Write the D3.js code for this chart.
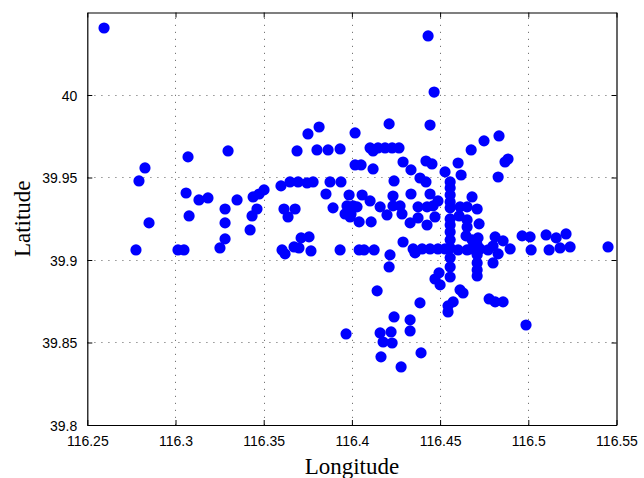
<!DOCTYPE html>
<html><head><meta charset="utf-8">
<script src="https://cdn.jsdelivr.net/npm/d3@7"></script>
<style>body{margin:0;background:#fff;} svg{display:block;}</style>
</head><body>
<script>
const lon = [116.2595,116.2776,116.2793,116.2827,116.2850,116.3014,116.3048,116.3060,116.3071,116.3077,116.3133,116.3184,116.3252,116.3281,116.3281,116.3281,116.3298,116.3349,116.3423,116.3434,116.3440,116.3462,116.3474,116.3502,
116.3598,116.3649,116.3695,116.3746,116.3780,116.3876,116.3938,116.3689,116.3802,116.3865,116.3933,116.3751,116.3814,116.3615,116.3678,116.3638,116.3853,116.3893,116.3712,116.3757,116.3672,116.3700,116.3604,116.3621,116.3768,116.3933,
116.4018,116.4211,116.4103,116.4120,116.4148,116.4188,116.4228,116.4267,116.4018,116.4052,116.4120,116.4290,116.4335,116.4239,116.3984,116.4058,116.4103,116.4233,116.4335,116.3972,116.4007,116.4029,116.3961,116.3995,116.3990,116.4041,116.4109,116.4160,116.4199,116.4233,116.4273,116.4284,116.4041,116.4069,116.4126,116.4290,116.4216,116.4211,116.4143,
116.4443,116.4432,116.4466,116.4420,116.4454,116.4386,116.4420,116.4528,116.4602,116.4619,116.4676,116.4749,116.4834,116.4868,116.4885,116.4829,
116.4557,116.4557,116.4557,116.4557,116.4557,116.4443,116.4488,116.4460,116.4375,116.4426,116.4613,116.4653,116.4710,116.4681,116.4375,116.4471,116.4557,116.4608,116.4653,116.4330,116.4426,116.4557,116.4653,116.4721,
116.4557,116.4557,116.4557,116.4557,116.4557,116.4557,116.4647,116.4681,116.4715,116.4710,116.4347,116.4398,116.4443,116.4488,116.4528,116.4602,116.4653,116.4358,116.4710,116.4710,116.4710,116.4710,116.4800,116.4812,116.4857,116.4897,116.4829,
116.4965,116.5010,116.5101,116.5158,116.5214,116.5016,116.5118,116.5180,116.5237,116.5452,116.4676,116.4727,116.4772,116.4800,
116.4471,116.4500,116.4494,116.4613,116.4630,116.4574,116.4545,116.4545,116.4386,116.4778,116.4812,116.4857,116.4987,116.4330,116.4330,116.4239,116.4160,116.4177,116.4222,116.4228,116.4165,116.4279,116.4392,116.3967];
const lat = [40.0406,39.9061,39.9479,39.9558,39.9225,39.9061,39.9061,39.9406,39.9625,39.9267,39.9364,39.9376,39.9073,39.9309,39.9225,39.9128,39.9661,39.9364,39.9182,39.9267,39.9382,39.9309,39.9400,39.9425,
39.9449,39.9473,39.9473,39.9467,39.9473,39.9473,39.9473,39.9661,39.9667,39.9667,39.9673,39.9764,39.9806,39.9309,39.9309,39.9261,39.9400,39.9316,39.9134,39.9140,39.9079,39.9073,39.9061,39.9037,39.9055,39.9061,
39.9770,39.9825,39.9679,39.9661,39.9679,39.9679,39.9679,39.9679,39.9576,39.9576,39.9552,39.9594,39.9546,39.9479,39.9394,39.9394,39.9358,39.9388,39.9400,39.9328,39.9328,39.9322,39.9279,39.9279,39.9261,39.9231,39.9231,39.9322,39.9273,39.9328,39.9328,39.9279,39.9061,39.9061,39.9061,39.9109,39.9031,39.8958,39.8813,
39.9818,40.0358,40.0018,39.9600,39.9582,39.9497,39.9473,39.9534,39.9588,39.9515,39.9667,39.9722,39.9752,39.9594,39.9612,39.9503,
39.9473,39.9437,39.9394,39.9352,39.9316,39.9400,39.9358,39.9328,39.9322,39.9322,39.9322,39.9322,39.9309,39.9382,39.9255,39.9261,39.9249,39.9267,39.9243,39.9225,39.9212,39.9212,39.9200,39.9219,
39.9170,39.9122,39.9073,39.9013,39.8958,39.8897,39.9146,39.9122,39.9134,39.9091,39.9067,39.9067,39.9067,39.9067,39.9067,39.9061,39.9061,39.9043,39.9031,39.8982,39.8940,39.8903,39.8982,39.9140,39.9116,39.9067,39.9037,
39.9146,39.9140,39.9152,39.9134,39.9158,39.9061,39.9061,39.9073,39.9079,39.9079,39.9067,39.9067,39.9061,39.9085,
39.8885,39.8849,39.8922,39.8819,39.8800,39.8746,39.8722,39.8685,39.8740,39.8764,39.8746,39.8746,39.8606,39.8637,39.8570,39.8655,39.8558,39.8503,39.8564,39.8497,39.8413,39.8352,39.8437,39.8552];
const xTicks = [116.25,116.3,116.35,116.4,116.45,116.5,116.55];
const xTickLabels = ["116.25","116.3","116.35","116.4","116.45","116.5","116.55"];
const yTicks = [39.8,39.85,39.9,39.95,40];
const yTickLabels = ["39.8","39.85","39.9","39.95","40"];

const W = 644, H = 478;
const m = {left: 87.3, right: 644 - 616.5, top: 12.5, bottom: 478 - 425};
const svg = d3.select("body").append("svg").attr("width", W).attr("height", H);
const x = d3.scaleLinear().domain([116.25, 116.55]).range([m.left, W - m.right]);
const y = d3.scaleLinear().domain([39.8, 40.05]).range([H - m.bottom, m.top]);
const x0 = x.range()[0], x1 = x.range()[1], y0 = y.range()[0], y1 = y.range()[1];

// grid
const grid = svg.append("g").attr("stroke", "#777").attr("stroke-width", 1).attr("stroke-dasharray", "1.2,5.8");
grid.selectAll("line.gx").data(xTicks.slice(1, -1)).join("line")
  .attr("x1", d => Math.round(x(d)) + 0.5).attr("x2", d => Math.round(x(d)) + 0.5)
  .attr("y1", y0).attr("y2", y1);
grid.selectAll("line.gy").data(yTicks.slice(1)).join("line")
  .attr("y1", d => Math.round(y(d)) + 0.5).attr("y2", d => Math.round(y(d)) + 0.5)
  .attr("x1", x0).attr("x2", x1);

// points
svg.append("g").selectAll("circle").data(lon.map((d, i) => [d, lat[i]])).join("circle")
  .attr("cx", d => x(d[0])).attr("cy", d => y(d[1])).attr("r", 5.6).attr("fill", "#0000ff");

// axes
const font = "'Liberation Sans', Arial, Helvetica, sans-serif";
const xb = svg.append("g").attr("transform", `translate(0,${y0})`)
  .call(d3.axisBottom(x).tickValues(xTicks).tickFormat((d, i) => xTickLabels[i]).tickSizeInner(-5).tickSizeOuter(0).tickPadding(11));
const xt = svg.append("g").attr("transform", `translate(0,${y1})`)
  .call(d3.axisTop(x).tickValues(xTicks).tickFormat("").tickSizeInner(-5).tickSizeOuter(0));
const yl = svg.append("g").attr("transform", `translate(${x0},0)`)
  .call(d3.axisLeft(y).tickValues(yTicks).tickFormat((d, i) => yTickLabels[i]).tickSizeInner(-5).tickSizeOuter(0).tickPadding(10));
const yr = svg.append("g").attr("transform", `translate(${x1},0)`)
  .call(d3.axisRight(y).tickValues(yTicks).tickFormat("").tickSizeInner(-5).tickSizeOuter(0));
[xb, xt, yl, yr].forEach(g => {
  g.selectAll("path.domain").attr("stroke", "#000").attr("stroke-width", 1.2);
  g.selectAll(".tick line").attr("stroke", "#000");
  g.selectAll("text").attr("fill", "#000").style("font-family", font).style("font-size", "14px");
});
xb.selectAll("text").attr("dy", "0.71em");
yl.selectAll("text").attr("dy", "0.36em");

svg.append("text").attr("x", (x0 + x1) / 2).attr("y", 474).attr("text-anchor", "middle")
  .style("font-family", "'Liberation Serif', 'Times New Roman', serif").style("font-size", "23px").text("Longitude");
svg.append("text").attr("transform", `translate(30,${(y0 + y1) / 2}) rotate(-90)`).attr("text-anchor", "middle")
  .style("font-family", "'Liberation Serif', 'Times New Roman', serif").style("font-size", "23px").text("Latitude");
</script>
</body></html>
